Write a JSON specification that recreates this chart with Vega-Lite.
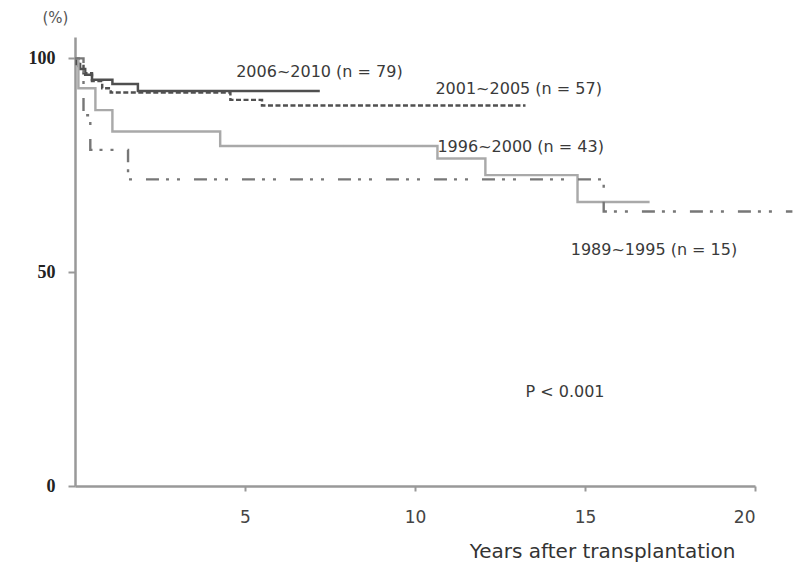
{
  "$schema": "https://vega.github.io/schema/vega-lite/v6.json",
  "width": 680,
  "height": 449,
  "autosize": {"type": "none"},
  "padding": {"left": 75, "top": 37, "right": 45, "bottom": 81},
  "background": "white",
  "config": {"view": {"stroke": null}},
  "datasets": {
    "survival": [
      {"cohort": "2006~2010", "years": 0, "survival": 100},
      {"cohort": "2006~2010", "years": 0.05, "survival": 98.7},
      {"cohort": "2006~2010", "years": 0.15, "survival": 97.5},
      {"cohort": "2006~2010", "years": 0.3, "survival": 96.2},
      {"cohort": "2006~2010", "years": 0.5, "survival": 95.0},
      {"cohort": "2006~2010", "years": 1.1, "survival": 94.0},
      {"cohort": "2006~2010", "years": 1.85, "survival": 92.4},
      {"cohort": "2006~2010", "years": 7.2, "survival": 92.4},

      {"cohort": "2001~2005", "years": 0, "survival": 100},
      {"cohort": "2001~2005", "years": 0.1, "survival": 98.2},
      {"cohort": "2001~2005", "years": 0.25, "survival": 96.5},
      {"cohort": "2001~2005", "years": 0.5, "survival": 94.7},
      {"cohort": "2001~2005", "years": 0.8, "survival": 93.0},
      {"cohort": "2001~2005", "years": 1.05, "survival": 92.0},
      {"cohort": "2001~2005", "years": 4.57, "survival": 90.3},
      {"cohort": "2001~2005", "years": 5.5, "survival": 89.0},
      {"cohort": "2001~2005", "years": 13.25, "survival": 89.0},

      {"cohort": "1996~2000", "years": 0, "survival": 100},
      {"cohort": "1996~2000", "years": 0.1, "survival": 93.0},
      {"cohort": "1996~2000", "years": 0.6, "survival": 87.9},
      {"cohort": "1996~2000", "years": 1.1, "survival": 82.9},
      {"cohort": "1996~2000", "years": 4.27, "survival": 79.5},
      {"cohort": "1996~2000", "years": 10.66, "survival": 76.6},
      {"cohort": "1996~2000", "years": 12.07, "survival": 72.7},
      {"cohort": "1996~2000", "years": 14.78, "survival": 66.4},
      {"cohort": "1996~2000", "years": 16.9, "survival": 66.4},

      {"cohort": "1989~1995", "years": 0, "survival": 100},
      {"cohort": "1989~1995", "years": 0.25, "survival": 86.7},
      {"cohort": "1989~1995", "years": 0.45, "survival": 78.6},
      {"cohort": "1989~1995", "years": 1.56, "survival": 71.7},
      {"cohort": "1989~1995", "years": 15.55, "survival": 64.2},
      {"cohort": "1989~1995", "years": 21.1, "survival": 64.2}
    ],
    "labels": [
      {"text": "2006~2010 (n = 79)", "x": 4.74, "y": 96.7},
      {"text": "2001~2005 (n = 57)", "x": 10.6, "y": 92.8},
      {"text": "1996~2000 (n = 43)", "x": 10.66, "y": 79.2},
      {"text": "1989~1995 (n = 15)", "x": 14.58, "y": 55.1},
      {"text": "P < 0.001", "x": 13.25, "y": 22.0}
    ]
  },
  "layer": [
    {
      "data": {"name": "survival"},
      "mark": {"type": "line", "interpolate": "step-after", "clip": false},
      "encoding": {
        "x": {
          "field": "years",
          "type": "quantitative",
          "scale": {"domain": [0, 20], "nice": false},
          "axis": {
            "values": [5, 10, 15, 20],
            "grid": false,
            "title": "Years after transplantation",
            "titleX": 660,
            "titleY": 71,
            "titleAlign": "right",
            "titleBaseline": "alphabetic",
            "titleFont": "DejaVu Sans",
            "titleFontSize": 20,
            "titleFontWeight": "normal",
            "titleColor": "#333333",
            "labelFont": "DejaVu Sans",
            "labelFontSize": 17,
            "labelColor": "#444444",
            "labelPadding": 18,
            "tickSize": 5,
            "tickColor": "#999999",
            "tickWidth": 2,
            "domainColor": "#999999",
            "domainWidth": 2.5
          }
        },
        "y": {
          "field": "survival",
          "type": "quantitative",
          "scale": {"domain": [0, 105], "nice": false},
          "axis": {
            "values": [0, 50, 100],
            "grid": false,
            "title": "(%)",
            "titleAngle": 0,
            "titleX": -20,
            "titleY": -20,
            "titleAlign": "center",
            "titleBaseline": "middle",
            "titleFont": "DejaVu Sans",
            "titleFontSize": 15,
            "titleFontWeight": "normal",
            "titleColor": "#555555",
            "labelFont": "Liberation Serif",
            "labelFontWeight": "bold",
            "labelFontSize": 18,
            "labelColor": "#222222",
            "labelPadding": 13,
            "tickSize": 7,
            "tickColor": "#999999",
            "tickWidth": 2,
            "domainColor": "#999999",
            "domainWidth": 2.5
          }
        },
        "color": {
          "field": "cohort",
          "type": "nominal",
          "scale": {
            "domain": ["2006~2010", "2001~2005", "1996~2000", "1989~1995"],
            "range": ["#4f4f4f", "#505050", "#a9a9a9", "#777777"]
          },
          "legend": null
        },
        "strokeDash": {
          "field": "cohort",
          "type": "nominal",
          "scale": {
            "domain": ["2006~2010", "2001~2005", "1996~2000", "1989~1995"],
            "range": [[1, 0], [5, 2.5], [1, 0], [13, 7, 3, 8, 3, 14]]
          },
          "legend": null
        },
        "strokeWidth": {
          "field": "cohort",
          "type": "nominal",
          "scale": {
            "domain": ["2006~2010", "2001~2005", "1996~2000", "1989~1995"],
            "range": [2.5, 2.4, 2.2, 2.8]
          },
          "legend": null
        }
      }
    },
    {
      "data": {"name": "labels"},
      "mark": {
        "type": "text",
        "align": "left",
        "baseline": "middle",
        "font": "DejaVu Sans",
        "fontSize": 16,
        "color": "#3a3a3a"
      },
      "encoding": {
        "x": {"field": "x", "type": "quantitative"},
        "y": {"field": "y", "type": "quantitative"},
        "text": {"field": "text"}
      }
    }
  ]
}
